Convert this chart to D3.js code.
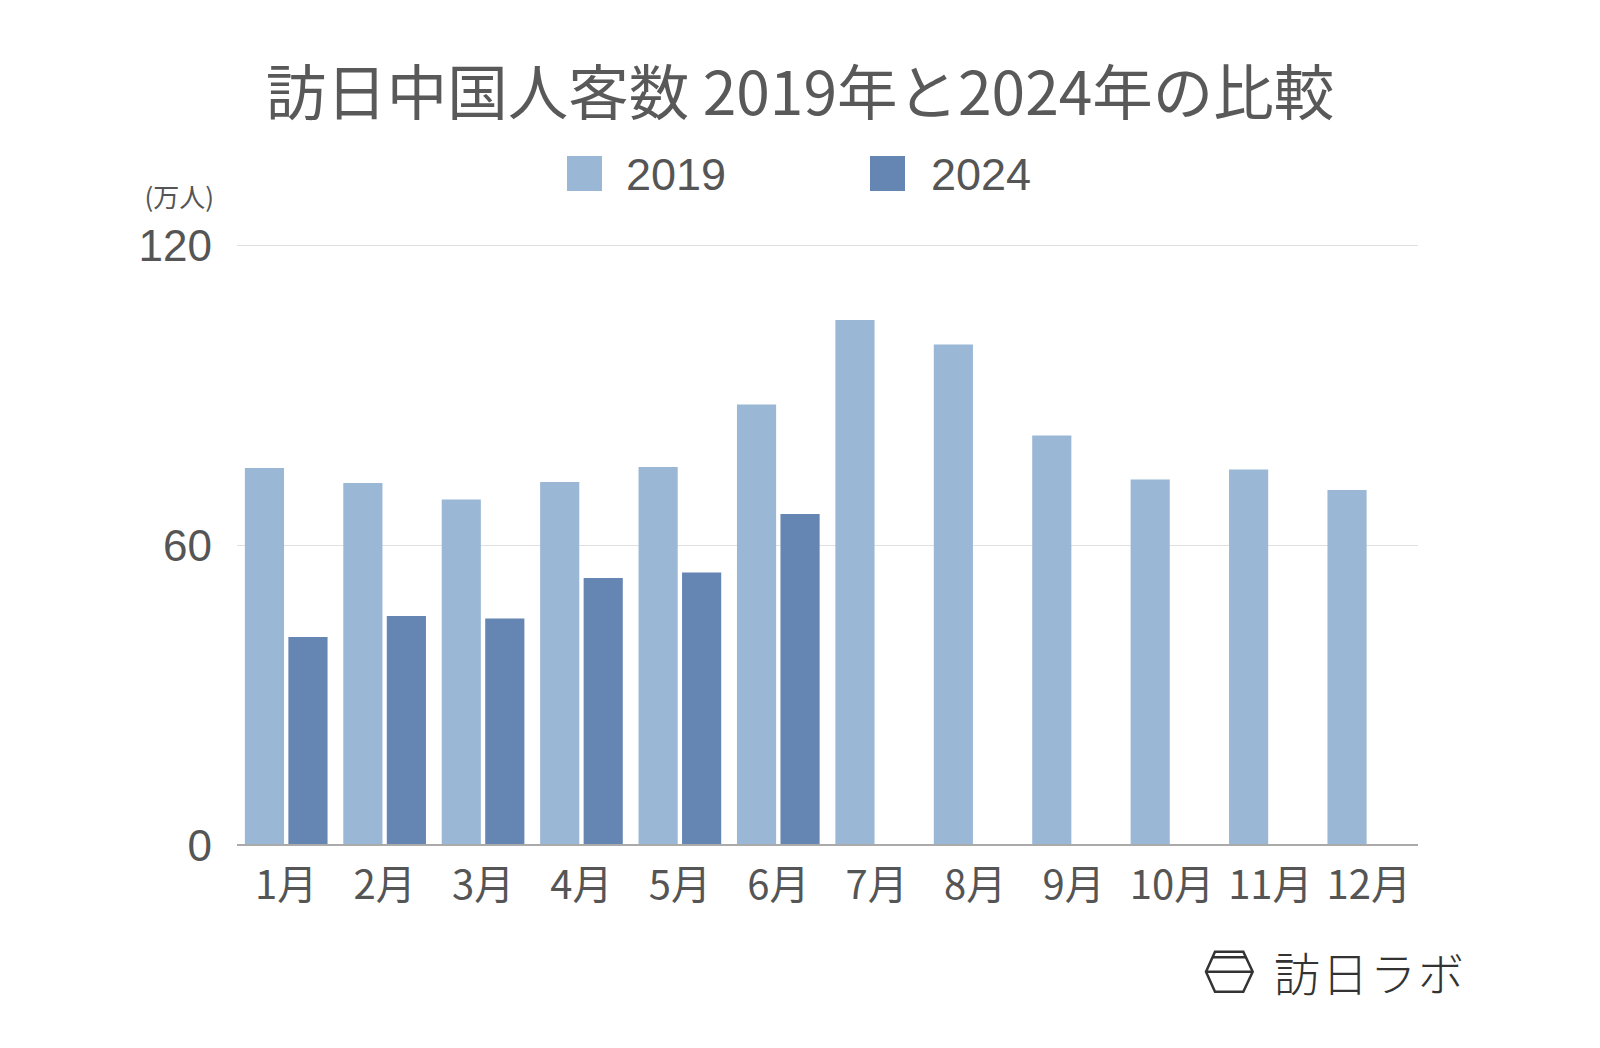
<!DOCTYPE html>
<html>
<head>
<meta charset="utf-8">
<script src="https://cdn.jsdelivr.net/npm/d3@7"></script>
<style>
  html, body { margin: 0; padding: 0; background: #fff; }
  svg { display: block; font-family: "Noto Sans CJK JP", "Noto Sans", sans-serif; }
</style>
</head>
<body>
<svg id="chart" width="1600" height="1048"></svg>
<script>
// ---- data ----
const titleText = "訪日中国人客数 2019年と2024年の比較";
const unitLabel = "(万人)";
const months = ["1月","2月","3月","4月","5月","6月","7月","8月","9月","10月","11月","12月"];
const seriesNames = ["2019", "2024"];
const values2019 = [75.4, 72.4, 69.1, 72.6, 75.6, 88.1, 105.0, 100.1, 81.9, 73.1, 75.1, 71.0];
const values2024 = [41.6, 45.8, 45.3, 53.4, 54.5, 66.2, null, null, null, null, null, null];
const yTicks = [0, 60, 120];
const seriesColors = ["#9ab8d6", "#6585b2"];
const logoText = "訪日ラボ";

// ---- layout ----
const svg = d3.select("#chart");
const plotLeft = 237, plotRight = 1418, plotTop = 245, plotBottom = 845;
const digitFont = "'Liberation Sans', Arial, sans-serif";

const x0 = d3.scaleBand().domain(months).range([plotLeft, plotRight]).paddingInner(0.16).paddingOuter(0.08);
const x1 = d3.scaleBand().domain(seriesNames).range([0, x0.bandwidth()]).paddingInner(0.1);
const y = d3.scaleLinear().domain([0, 120]).range([plotBottom, plotTop]);
const color = d3.scaleOrdinal().domain(seriesNames).range(seriesColors);

// title
svg.append("text")
  .attr("x", 800).attr("y", 88)
  .attr("text-anchor", "middle").attr("dominant-baseline", "central")
  .attr("fill", "#595959").attr("font-size", 60.5)
  .text(titleText);

// legend
const legendPos = [{rx: 567, tx: 626}, {rx: 870, tx: 931}];
seriesNames.forEach((s, i) => {
  svg.append("rect").attr("x", legendPos[i].rx).attr("y", 156)
    .attr("width", 35).attr("height", 35).attr("fill", color(s));
  svg.append("text").attr("x", legendPos[i].tx).attr("y", 174)
    .attr("dy", "0.36em")
    .attr("font-family", digitFont)
    .attr("fill", "#555").attr("font-size", 45).text(s);
});

// unit label
svg.append("text").attr("x", 214).attr("y", 195)
  .attr("text-anchor", "end").attr("dominant-baseline", "central")
  .attr("fill", "#555").attr("font-size", 26).text(unitLabel);

// gridlines
const grid = svg.append("g").attr("transform", `translate(${plotLeft},0)`)
  .call(d3.axisLeft(y).tickValues(yTicks).tickSize(-(plotRight - plotLeft)).tickFormat(""));
grid.select(".domain").remove();
grid.selectAll("line").attr("stroke", "#e0e0e0").attr("stroke-width", 1);

// y axis labels
const yAxis = svg.append("g").attr("transform", `translate(${plotLeft},0)`)
  .call(d3.axisLeft(y).tickValues(yTicks).tickSize(0).tickPadding(25));
yAxis.select(".domain").remove();
yAxis.selectAll("text").attr("font-size", 44).attr("fill", "#555")
  .attr("font-family", digitFont).attr("dy", "0.36em");

// bars
const data = months.map((m, i) => ({ month: m, vals: [
  { key: "2019", v: values2019[i] },
  { key: "2024", v: values2024[i] }
]}));
const groups = svg.append("g").selectAll("g").data(data).join("g")
  .attr("transform", d => `translate(${x0(d.month)},0)`);
groups.selectAll("rect").data(d => d.vals.filter(e => e.v != null)).join("rect")
  .attr("x", d => x1(d.key))
  .attr("y", d => y(d.v))
  .attr("width", x1.bandwidth())
  .attr("height", d => y(0) - y(d.v))
  .attr("fill", d => color(d.key));

// x axis
const xAxis = svg.append("g").attr("transform", `translate(0,${plotBottom})`)
  .call(d3.axisBottom(x0).tickSize(0).tickPadding(0));
xAxis.select(".domain").attr("stroke", "#aaa").attr("stroke-width", 2)
  .attr("d", `M${plotLeft},0H${plotRight}`);
xAxis.selectAll("text").attr("font-size", 40).attr("fill", "#555")
  .attr("font-family", "'Noto Sans CJK JP', sans-serif")
  .attr("y", 40).attr("dy", "0.36em");

// logo
const logo = svg.append("g").attr("fill", "none").attr("stroke", "#333").attr("stroke-width", 2.5);
logo.append("path").attr("d", "M1215,951.7 L1243.3,951.7 L1252.7,971.7 L1243.3,991.7 L1215,991.7 L1206,971.7 Z");
logo.append("path").attr("d", "M1212.5,957.3 L1245.8,957.3 M1206,971.7 L1252.7,971.7");
svg.append("text").attr("x", 1274).attr("y", 971)
  .attr("dominant-baseline", "central")
  .attr("fill", "#333").attr("font-size", 46).attr("font-weight", 300)
  .attr("letter-spacing", 2)
  .text(logoText);
</script>
</body>
</html>
